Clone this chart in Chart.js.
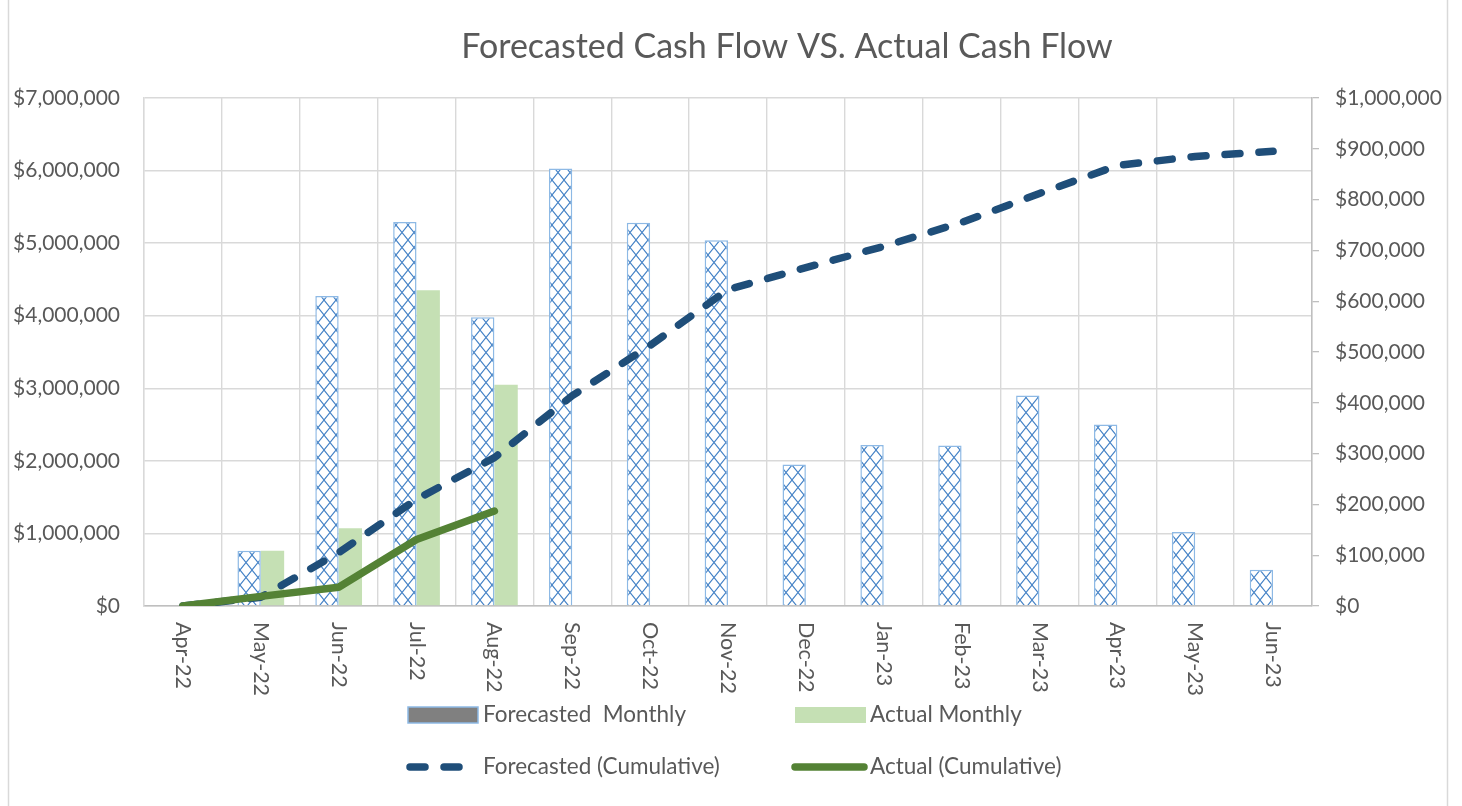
<!DOCTYPE html>
<html>
<head>
<meta charset="utf-8">
<title>Forecasted Cash Flow VS. Actual Cash Flow</title>
<script src="https://cdn.jsdelivr.net/npm/chart.js@4.4.0/dist/chart.umd.min.js"></script>
<style>
  html, body { margin: 0; padding: 0; background: #fff; }
  #wrap { width: 1462px; height: 806px; position: relative; }
</style>
</head>
<body>
<div id="wrap"><canvas id="CashChart" width="1462" height="806"></canvas></div>
<script>
// chart data
const chartTitle = 'Forecasted Cash Flow VS. Actual Cash Flow';
const months = ['Apr-22', 'May-22', 'Jun-22', 'Jul-22', 'Aug-22', 'Sep-22', 'Oct-22', 'Nov-22',
                'Dec-22', 'Jan-23', 'Feb-23', 'Mar-23', 'Apr-23', 'May-23', 'Jun-23'];
const forecastMonthly = [null, 760000, 4270000, 5290000, 3980000, 6030000, 5280000, 5040000,
                         1950000, 2220000, 2210000, 2900000, 2500000, 1020000, 500000];
const actualMonthly = [null, 760000, 1070000, 4350000, 3050000, null, null, null,
                       null, null, null, null, null, null, null];
const forecastCumulative = [0, 17000, 105000, 210000, 292000, 414000, 513000, 623000,
                            666000, 708000, 755000, 812000, 867000, 885000, 895000];
const actualCumulative = [0, 19000, 37000, 131000, 187000, null, null, null,
                          null, null, null, null, null, null, null];
const leftTicks = { min: 0, max: 7000000, step: 1000000 };
const rightTicks = { min: 0, max: 1000000, step: 100000 };

const TEXT = '#595959';
const GRID = '#D9D9D9';
const FONT = 'Lato, "Open Sans", "Noto Sans", sans-serif';

function makeHatch() {
    const c = document.createElement('canvas');
    c.width = 12; c.height = 15;
    const g = c.getContext('2d');
    g.fillStyle = '#ffffff';
    g.fillRect(0, 0, 12, 15);
    g.strokeStyle = '#4482C6';
    g.lineWidth = 1.1;
    g.beginPath();
    g.moveTo(0, 0); g.lineTo(12, 15);
    g.moveTo(12, 0); g.lineTo(0, 15);
    g.stroke();
    return g.createPattern(c, 'repeat');
}

const money = v => '$' + Number(v).toLocaleString('en-US');

// white background + the thin frame round the chart
const framePlugin = {
    id: 'frame',
    beforeDraw(chart) {
        const ctx = chart.ctx;
        ctx.save();
        ctx.fillStyle = '#fff';
        ctx.fillRect(0, 0, chart.width, chart.height);
        ctx.strokeStyle = GRID;
        ctx.lineWidth = 1.5;
        ctx.beginPath();
        ctx.moveTo(8.5, 0); ctx.lineTo(8.5, chart.height);
        ctx.moveTo(1447.5, 0); ctx.lineTo(1447.5, chart.height);
        ctx.stroke();
        ctx.restore();
    }
};

// title, rotated month labels and the two-row legend
const textPlugin = {
    id: 'texts',
    afterDraw(chart) {
        const ctx = chart.ctx;
        const area = chart.chartArea;
        ctx.save();
        ctx.fillStyle = TEXT;

        ctx.font = '34px ' + FONT;
        ctx.textAlign = 'center';
        ctx.textBaseline = 'middle';
        ctx.fillText(chartTitle, 787, 47);

        // month labels, reading downwards
        const xs = chart.scales.x;
        ctx.font = '21.5px ' + FONT;
        ctx.textAlign = 'left';
        xs.ticks.forEach((t, i) => {
            const x = xs.getPixelForTick(i);
            ctx.save();
            ctx.translate(x, area.bottom + 16);
            ctx.rotate(Math.PI / 2);
            ctx.fillText(months[i], 0, 0);
            ctx.restore();
        });

        // legend
        const ds = chart.data.datasets;
        const fBar = ds[2], aBar = ds[3], fLine = ds[1], aLine = ds[0];
        const r1 = 715, r2 = 767;

        ctx.fillStyle = '#808080';
        ctx.fillRect(408, r1 - 8, 70, 16);
        ctx.strokeStyle = fBar.borderColor;
        ctx.lineWidth = 1.5;
        ctx.strokeRect(408, r1 - 8, 70, 16);

        ctx.fillStyle = aBar.backgroundColor;
        ctx.fillRect(795, r1 - 8, 71, 16);

        ctx.lineCap = 'round';
        ctx.lineWidth = fLine.borderWidth;
        ctx.strokeStyle = fLine.borderColor;
        ctx.setLineDash(fLine.borderDash);
        ctx.beginPath(); ctx.moveTo(410, r2); ctx.lineTo(460, r2); ctx.stroke();
        ctx.setLineDash([]);

        ctx.lineWidth = aLine.borderWidth;
        ctx.strokeStyle = aLine.borderColor;
        ctx.beginPath(); ctx.moveTo(795, r2); ctx.lineTo(864, r2); ctx.stroke();

        ctx.fillStyle = TEXT;
        ctx.font = '22.5px ' + FONT;
        ctx.textBaseline = 'middle';
        ctx.fillText(fBar.label, 483, r1);
        ctx.fillText(aBar.label, 870, r1);
        ctx.fillText(fLine.label, 483, r2);
        ctx.fillText(aLine.label, 870, r2);
        ctx.restore();
    }
};

const ctx = document.getElementById('CashChart').getContext('2d');
const CashChart = new Chart(ctx, {
    type: 'bar',
    data: {
        labels: months,
        datasets: [
            {
                type: 'line',
                label: 'Actual (Cumulative)',
                data: actualCumulative,
                yAxisID: 'y1',
                borderColor: '#548235',
                borderWidth: 7.5,
                borderCapStyle: 'round',
                borderJoinStyle: 'round',
                pointRadius: 0,
                tension: 0,
                fill: false,
                order: 0
            },
            {
                type: 'line',
                label: 'Forecasted (Cumulative)',
                data: forecastCumulative,
                yAxisID: 'y1',
                borderColor: '#1F4E79',
                borderWidth: 7.5,
                borderDash: [15, 19],
                borderCapStyle: 'round',
                borderJoinStyle: 'round',
                pointRadius: 0,
                tension: 0,
                fill: false,
                order: 1
            },
            {
                label: 'Forecasted  Monthly',
                data: forecastMonthly,
                yAxisID: 'y',
                backgroundColor: makeHatch(),
                borderColor: '#8DB9E5',
                borderWidth: 1.5,
                categoryPercentage: 0.6,
                barPercentage: 1.0,
                order: 2
            },
            {
                label: 'Actual Monthly',
                data: actualMonthly,
                yAxisID: 'y',
                backgroundColor: '#C5E0B4',
                borderWidth: 0,
                categoryPercentage: 0.6,
                barPercentage: 1.0,
                order: 2
            }
        ]
    },
    options: {
        responsive: false,
        animation: false,
        layout: { padding: { top: 98, left: 0, right: 0, bottom: 0 } },
        plugins: {
            legend: { display: false },
            title: { display: false },
            tooltip: { enabled: false }
        },
        scales: {
            x: {
                grid: { offset: true, color: GRID, lineWidth: 1.4, drawTicks: false },
                border: { color: '#BFBFBF', width: 1.5 },
                ticks: { display: false },
                afterFit: s => { s.height = 200; }
            },
            y: {
                position: 'left',
                min: leftTicks.min,
                max: leftTicks.max,
                grid: { color: GRID, lineWidth: 1.4, drawTicks: false },
                border: { color: GRID, width: 1.4 },
                ticks: {
                    stepSize: leftTicks.step,
                    padding: 24,
                    color: TEXT,
                    font: { family: FONT, size: 21 },
                    callback: money
                },
                afterFit: s => { s.width = 144; }
            },
            y1: {
                position: 'right',
                min: rightTicks.min,
                max: rightTicks.max,
                grid: { drawOnChartArea: false, drawTicks: true, tickLength: 7, color: '#BFBFBF', lineWidth: 1.3 },
                border: { color: '#BFBFBF', width: 1.5 },
                ticks: {
                    stepSize: rightTicks.step,
                    padding: 16,
                    color: TEXT,
                    font: { family: FONT, size: 21 },
                    callback: money
                },
                afterFit: s => { s.width = 150; }
            }
        }
    },
    plugins: [framePlugin, textPlugin]
});
</script>
</body>
</html>
